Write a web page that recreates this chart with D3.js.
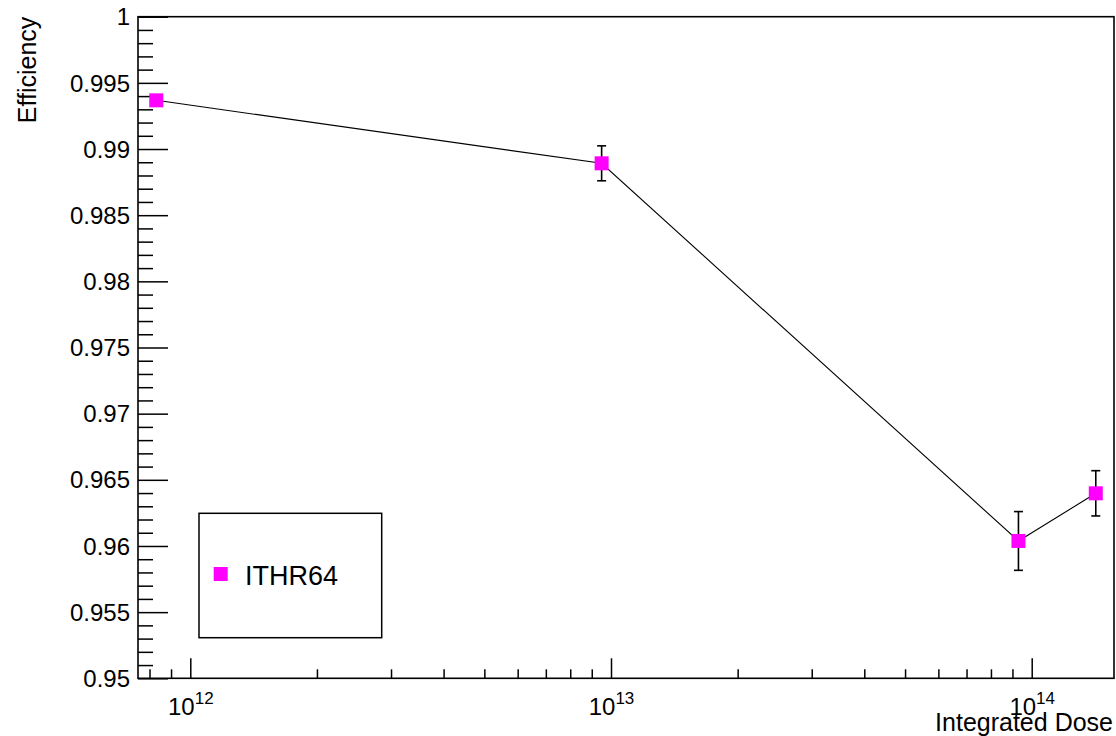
<!DOCTYPE html>
<html>
<head>
<meta charset="utf-8">
<script src="https://cdn.jsdelivr.net/npm/d3@7"></script>
<style>
  html, body { margin: 0; padding: 0; background: #fff; }
  svg { display: block; }
  text { font-family: "Liberation Sans", Arial, Helvetica, sans-serif; fill: #000; }
</style>
</head>
<body>
<svg id="chart" width="1116" height="736"></svg>
<script>
// ---- data ----
const seriesName = "ITHR64";
const doses = [8.3e11, 9.5e12, 9.3e13, 1.42e14];
const efficiency = [0.99368, 0.98892, 0.96038, 0.96398];
const efficiencyErr = [0.0003, 0.00132, 0.00222, 0.00171];
const yMajorTicks = [0.95, 0.955, 0.96, 0.965, 0.97, 0.975, 0.98, 0.985, 0.99, 0.995, 1];
const xMajorTicks = [1e12, 1e13, 1e14];
const xMajorExponents = ["12", "13", "14"];
const xTitle = "Integrated Dose";
const yTitle = "Efficiency";

// ---- layout ----
const W = 1116, H = 736;
const L = 138, R = 1114, T = 16.7, B = 678.3;
const svg = d3.select("#chart");

const x = d3.scaleLog().domain([Math.pow(10, 11.8757), Math.pow(10, 14.1956)]).range([L, R]);
const y = d3.scaleLinear().domain([0.95, 1]).range([B, T]);

// minor ticks
const yMinor = [];
for (let i = 0; i <= 50; i++) {
  const v = 0.95 + i * 0.001;
  if (i % 5 !== 0) yMinor.push(v);
}
const xMinor = [];
for (let e = 11; e <= 14; e++) {
  for (let m = 2; m <= 9; m++) {
    const v = m * Math.pow(10, e);
    if (v > x.domain()[0] && v < x.domain()[1]) xMinor.push(v);
  }
}

// y axis
const yAxisMajor = d3.axisLeft(y).tickValues(yMajorTicks).tickSizeInner(-30).tickSizeOuter(0)
  .tickPadding(8).tickFormat(d => String(+d.toFixed(3)));
const gy = svg.append("g").attr("transform", `translate(${L},0)`).call(yAxisMajor);
gy.select(".domain").remove();
gy.selectAll(".tick line").attr("stroke", "#000").attr("stroke-width", 1.5);
gy.selectAll(".tick text").attr("font-size", 24).attr("dy", "0.34em")
  .style("font-family", '"Liberation Sans", Arial, sans-serif');

const gyMinor = svg.append("g").attr("transform", `translate(${L},0)`)
  .call(d3.axisLeft(y).tickValues(yMinor).tickSizeInner(-15).tickSizeOuter(0).tickFormat(""));
gyMinor.select(".domain").remove();
gyMinor.selectAll(".tick line").attr("stroke", "#000").attr("stroke-width", 1.5);

// x axis
const gx = svg.append("g").attr("transform", `translate(0,${B})`)
  .call(d3.axisBottom(x).tickValues(xMajorTicks).tickSizeInner(-20).tickSizeOuter(0).tickFormat(""));
gx.select(".domain").remove();
gx.selectAll(".tick line").attr("stroke", "#000").attr("stroke-width", 1.5);
gx.selectAll(".tick").each(function(d, i) {
  const t = d3.select(this).append("text")
    .attr("y", 37).attr("text-anchor", "middle").attr("font-size", 24)
    .style("font-family", '"Liberation Sans", Arial, sans-serif').attr("fill", "#000");
  t.append("tspan").text("10");
  t.append("tspan").attr("dy", -11).attr("font-size", 17).text(xMajorExponents[i]);
});

const gxMinor = svg.append("g").attr("transform", `translate(0,${B})`)
  .call(d3.axisBottom(x).tickValues(xMinor).tickSizeInner(-9).tickSizeOuter(0).tickFormat(""));
gxMinor.select(".domain").remove();
gxMinor.selectAll(".tick line").attr("stroke", "#000").attr("stroke-width", 1.5);

// frame
svg.append("rect").attr("x", L).attr("y", T).attr("width", R - L).attr("height", B - T)
  .attr("fill", "none").attr("stroke", "#000").attr("stroke-width", 1.6);

// titles
svg.append("text").attr("x", 1113).attr("y", 731).attr("text-anchor", "end")
  .attr("font-size", 25).text(xTitle);
svg.append("text").attr("transform", `translate(36,${T}) rotate(-90)`)
  .attr("text-anchor", "end").attr("font-size", 25).text(yTitle);

// data
const pts = doses.map((d, i) => ({ x: d, y: efficiency[i], e: efficiencyErr[i] }));

svg.append("path").datum(pts)
  .attr("d", d3.line().x(d => x(d.x)).y(d => y(d.y)))
  .attr("fill", "none").attr("stroke", "#000").attr("stroke-width", 1.1);

const eb = svg.append("g");
pts.forEach(p => {
  const cx = x(p.x);
  eb.append("line").attr("x1", cx).attr("x2", cx).attr("y1", y(p.y + p.e)).attr("y2", y(p.y - p.e))
    .attr("stroke", "#000").attr("stroke-width", 1.6);
  [p.y + p.e, p.y - p.e].forEach(v => {
    eb.append("line").attr("x1", cx - 4.5).attr("x2", cx + 4.5).attr("y1", y(v)).attr("y2", y(v))
      .attr("stroke", "#000").attr("stroke-width", 1.6);
  });
});

const ms = 14;
svg.append("g").selectAll("rect").data(pts).join("rect")
  .attr("x", d => x(d.x) - ms / 2).attr("y", d => y(d.y) - ms / 2)
  .attr("width", ms).attr("height", ms).attr("fill", "#ff00ff");

// legend
const lg = svg.append("g");
lg.append("rect").attr("x", 199).attr("y", 513.3).attr("width", 182.7).attr("height", 124.4)
  .attr("fill", "#fff").attr("stroke", "#000").attr("stroke-width", 1.5);
lg.append("rect").attr("x", 220.7 - 7).attr("y", 574 - 7).attr("width", 14).attr("height", 14)
  .attr("fill", "#ff00ff");
lg.append("text").attr("x", 245).attr("y", 584.5).attr("font-size", 27).text(seriesName);
</script>
</body>
</html>
